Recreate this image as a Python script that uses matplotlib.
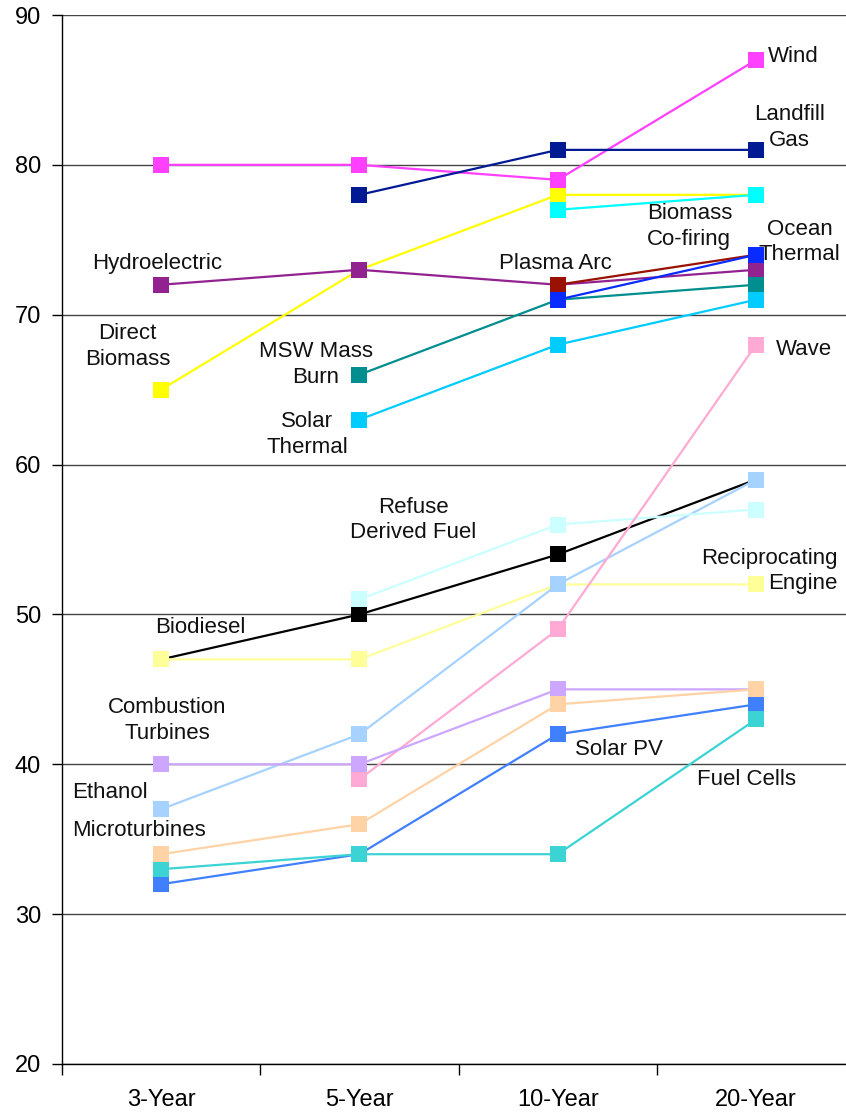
import matplotlib.pyplot as plt
import numpy as np

plt.rcParams['font.family'] = ['Liberation Sans', 'DejaVu Sans']

nan = np.nan
periods = ['3-Year', '5-Year', '10-Year', '20-Year']

# values per technology, one per period (nan = not reported)
biodiesel = [47, 50, 54, 59]
reciprocating = [47, 47, 52, 52]
ethanol = [37, 42, 52, 59]
direct_biomass = [65, 73, 78, 78]
cofiring = [nan, nan, 77, 78]
hydro = [72, 73, 72, 73]
plasma_arc = [nan, nan, 72, 74]
msw_burn = [nan, 66, 71, 72]
ocean_thermal = [nan, nan, 71, 74]
solar_thermal = [nan, 63, 68, 71]
wind = [80, 80, 79, 87]
landfill_gas = [nan, 78, 81, 81]
refuse_fuel = [nan, 51, 56, 57]
wave = [nan, 39, 49, 68]
combustion = [40, 40, 45, 45]
solar_pv = [32, 34, 42, 44]
fuel_cells = [33, 34, 34, 43]
microturbines = [34, 36, 44, 45]

series = [
    (biodiesel, '#000000'),
    (reciprocating, '#FFFF99'),
    (ethanol, '#A6D2FF'),
    (direct_biomass, '#FFFF00'),
    (cofiring, '#00FFFF'),
    (hydro, '#932291'),
    (plasma_arc, '#991100'),
    (msw_burn, '#008E8E'),
    (ocean_thermal, '#0A2BFF'),
    (solar_thermal, '#00CCFF'),
    (wind, '#FF40FF'),
    (landfill_gas, '#001A94'),
    (refuse_fuel, '#CCFFFF'),
    (wave, '#FFAAD4'),
    (combustion, '#CCA6FF'),
    (solar_pv, '#4080FF'),
    (fuel_cells, '#3BD3D3'),
    (microturbines, '#FFD3A6'),
]

# label text, x (category index), y, horizontal alignment
labels = [
    ('Wind', 3.06, 87.2, 'left'),
    ('Landfill\nGas', 3.17, 82.5, 'center'),
    ('Biomass\nCo-firing', 2.45, 75.9, 'left'),
    ('Ocean\nThermal', 3.22, 74.85, 'center'),
    ('Plasma Arc', 1.99, 73.45, 'center'),
    ('Hydroelectric', -0.02, 73.45, 'center'),
    ('Direct\nBiomass', -0.17, 67.9, 'center'),
    ('MSW Mass\nBurn', 0.78, 66.7, 'center'),
    ('Solar\nThermal', 0.735, 62.0, 'center'),
    ('Refuse\nDerived Fuel', 1.27, 56.3, 'center'),
    ('Wave', 3.10, 67.65, 'left'),
    ('Reciprocating\nEngine', 3.41, 52.9, 'right'),
    ('Biodiesel', 0.2, 49.1, 'center'),
    ('Combustion\nTurbines', 0.03, 42.9, 'center'),
    ('Ethanol', -0.26, 38.1, 'center'),
    ('Microturbines', -0.11, 35.6, 'center'),
    ('Solar PV', 2.31, 41.0, 'center'),
    ('Fuel Cells', 2.95, 39.0, 'center'),
]

fig = plt.figure(figsize=(8.46, 11.14), dpi=100)
ax = fig.add_axes([62 / 846, 1 - 1064 / 1114, 4 * 198.3 / 846, 1049 / 1114])

x = np.arange(len(periods))
for vals, col in series:
    ax.plot(x, vals, color=col, lw=1.6, marker='s', ms=11.5,
            markeredgewidth=0, solid_capstyle='butt')

for txt, lx, ly, ha in labels:
    ax.text(lx, ly, txt, ha=ha, va='center', multialignment=ha,
            fontsize=16, linespacing=1.3, color='#111111')

ax.set_xlim(-0.5, 3.5)
ax.set_ylim(20, 90)
ax.set_yticks(range(20, 91, 10))
ax.set_xticks(x)
ax.set_xticklabels(periods)
ax.set_xticks(np.arange(-0.5, 3.6, 1), minor=True)
ax.tick_params(axis='x', which='major', length=0, pad=18, labelsize=17)
ax.tick_params(axis='x', which='minor', length=8, width=1, direction='out')
ax.tick_params(axis='y', length=7, width=1, direction='out', pad=8, labelsize=17)

ax.yaxis.grid(True, color='#444444', lw=1)
ax.set_axisbelow(True)
for s in ['top', 'right']:
    ax.spines[s].set_visible(False)
for s in ['left', 'bottom']:
    ax.spines[s].set_linewidth(1)

plt.savefig('out.png', dpi=100)
